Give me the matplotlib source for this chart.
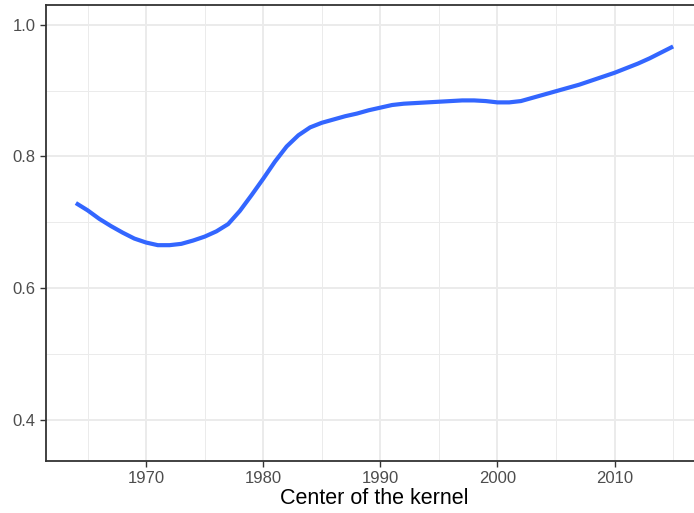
import numpy as np
import matplotlib
matplotlib.use("Agg")
import matplotlib.pyplot as plt
from matplotlib.ticker import MultipleLocator

plt.rcParams['font.family'] = ['Liberation Sans', 'DejaVu Sans']

# values
years = [1964, 1965, 1966, 1967, 1968, 1969, 1970, 1971, 1972, 1973,
         1974, 1975, 1976, 1977, 1978, 1979, 1980, 1981, 1982, 1983,
         1984, 1985, 1986, 1987, 1988, 1989, 1990, 1991, 1992, 1993,
         1994, 1995, 1996, 1997, 1998, 1999, 2000, 2001, 2002, 2003,
         2004, 2005, 2006, 2007, 2008, 2009, 2010, 2011, 2012, 2013,
         2014, 2015]
values = [0.729, 0.718, 0.705, 0.694, 0.684, 0.675, 0.669, 0.665, 0.665, 0.667,
          0.672, 0.678, 0.686, 0.697, 0.717, 0.741, 0.766, 0.792, 0.815, 0.832,
          0.844, 0.851, 0.856, 0.861, 0.865, 0.870, 0.874, 0.878, 0.880, 0.881,
          0.882, 0.883, 0.884, 0.885, 0.885, 0.884, 0.882, 0.882, 0.884, 0.889,
          0.894, 0.899, 0.904, 0.909, 0.915, 0.921, 0.927, 0.934, 0.941, 0.949,
          0.958, 0.967]
xticks = [1970, 1980, 1990, 2000, 2010]
yticks = [0.4, 0.6, 0.8, 1.0]

fig = plt.figure(figsize=(6.94, 5.13), dpi=100)
ax = fig.add_axes([46 / 694, 1 - 461 / 513, (703 - 46) / 694, (461 - 5) / 513])

ax.plot(years, values, color='#3366FF', lw=3.0, solid_capstyle='butt',
        solid_joinstyle='round', zorder=3)

ax.set_xlim(1961.45, 2017.55)
ax.set_ylim(0.337, 1.030)
ax.set_xticks(xticks)
ax.set_yticks(yticks)
ax.set_yticklabels(['%.1f' % v for v in yticks])
ax.xaxis.set_minor_locator(MultipleLocator(5))
ax.yaxis.set_minor_locator(MultipleLocator(0.1))

ax.grid(which='major', color='#EBEBEB', lw=1.4)
ax.grid(which='minor', color='#EBEBEB', lw=0.7)
ax.set_axisbelow(True)
ax.tick_params(which='minor', length=0)
ax.tick_params(which='major', length=4.5, width=1.0, color='#333333',
               labelcolor='#4D4D4D', labelsize=12, pad=3)

for s in ax.spines.values():
    s.set_color('#333333')
    s.set_linewidth(1.3)

ax.set_xlabel('Center of the kernel', fontsize=15.5, color='black', labelpad=1)

fig.savefig('out.png', dpi=100)
